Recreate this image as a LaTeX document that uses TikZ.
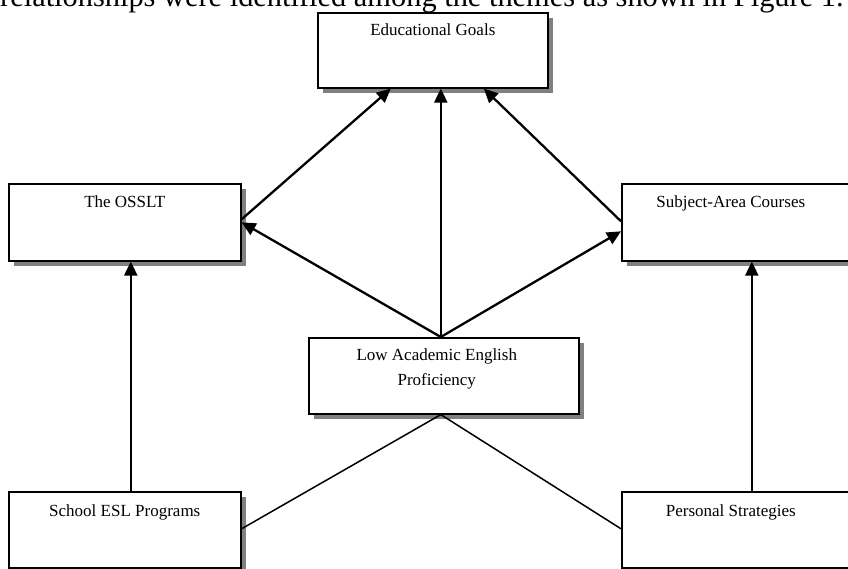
\documentclass[tikz,border=0pt]{standalone}
\usepackage{fontspec}
\setmainfont{Liberation Serif}
\usetikzlibrary{arrows.meta,shadows,calc}
\begin{document}
\begin{tikzpicture}[x=1pt,y=-1pt,
  box/.style={draw, line width=1.6pt, fill=white, anchor=north west, inner sep=0pt,
    general shadow={fill=black!50, shadow xshift=5pt, shadow yshift=-5pt}},
  lbl/.style={font=\fontsize{17}{25}\selectfont, align=center, inner sep=0pt},
  arr/.style={line width=2.3pt, -{Triangle[length=14pt,width=13pt]}},
  link/.style={line width=1.5pt}]
\useasboundingbox (0,0) rectangle (848,569);
\node[font=\fontsize{30.4}{36}\selectfont, anchor=base west, inner sep=0pt] (intro) at (0,7)
  {relationships were identified among the themes as shown in Figure 1.};
\node[box, minimum width=230pt, minimum height=75pt] (eg) at (317,12) {};
\node[box, minimum width=232pt, minimum height=77pt] (os) at (8,183) {};
\node[box, minimum width=232pt, minimum height=77pt] (sa) at (621,183) {};
\node[box, minimum width=270pt, minimum height=76pt] (low) at (308,337) {};
\node[box, minimum width=232pt, minimum height=76pt] (esl) at (8,491) {};
\node[box, minimum width=232pt, minimum height=76pt] (ps) at (621,491) {};
\node[lbl] (egl) at ($(eg.north)+(0,18)$) {Educational Goals};
\node[lbl] (osl) at ($(os.north)+(0,19)$) {The OSSLT};
\node[lbl] (sal) at ($(sa.north)+(-7,20)$) {Subject-Area Courses};
\node[lbl] (lowl) at ($(low.north)+(-7,32)$) {Low Academic English\\Proficiency};
\node[lbl] (esll) at ($(esl.north)+(0,21)$) {School ESL Programs};
\node[lbl] (psl) at ($(ps.north)+(-7,21)$) {Personal Strategies};
\coordinate (apex) at ($(low.north)+(-3,0)$);
\coordinate (base) at ($(low.south)+(-3,0)$);
\draw[arr] (apex) -- (apex |- eg.south);
\draw[arr] (apex) -- (os.east);
\draw[arr] (apex) -- ($(sa.west)+(0,9)$);
\draw[arr] ($(os.east)+(0,-3)$) -- ($(eg.south)+(-42,0)$);
\draw[arr] ($(sa.west)+(0,-1)$) -- ($(eg.south)+(51,0)$);
\coordinate (eslt) at ($(esl.north)+(6,0)$);
\coordinate (pst) at ($(ps.north)+(14,0)$);
\draw[arr] (eslt) -- (eslt |- os.south);
\draw[arr] (pst) -- (pst |- sa.south);
\draw[link] (base) -- ($(esl.east)+(0,-1)$);
\draw[link] (base) -- ($(ps.west)+(0,-1)$);
\end{tikzpicture}
\end{document}
